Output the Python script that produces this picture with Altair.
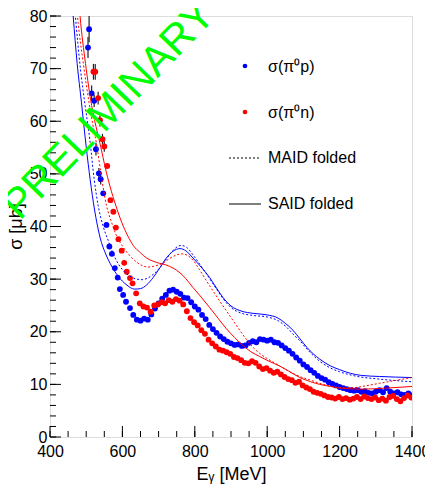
import altair as alt
import pandas as pd

# ---------------- data ----------------
p_E = [505, 508, 515, 522, 527, 535, 540, 547, 556, 564, 571, 579, 587, 593, 602, 610, 621, 630, 640, 650,
       660, 670, 680, 690, 700, 710, 720, 730, 740, 750, 760, 770, 780, 790, 800, 810, 820, 830, 840, 850,
       860, 870, 880, 890, 900, 910, 920, 930, 940, 950, 960, 970, 980, 990, 1000, 1010, 1020, 1030, 1040, 1050,
       1060, 1070, 1080, 1090, 1100, 1110, 1120, 1130, 1140, 1150, 1160, 1170, 1180, 1190, 1200, 1210, 1220, 1230,
       1240, 1250, 1260, 1270, 1280, 1290, 1300, 1310, 1320, 1330, 1340, 1350, 1360, 1370, 1380, 1390, 1400]
p_sig = [74.0, 77.5, 65.3, 63.9, 54.7, 50.1, 49.0, 46.3, 40.3, 36.2, 34.8, 32.1, 30.3, 28.1, 27.0, 25.7, 24.5, 23.2, 22.3, 22.1,
         22.5, 22.3, 23.3, 24.4, 25.4, 26.3, 27.0, 27.8, 28.0, 27.6, 27.2, 26.5, 26.4, 25.6, 24.8, 24.2, 23.2, 22.4, 21.3, 20.5,
         19.8, 19.1, 18.6, 18.1, 17.8, 17.5, 17.6, 17.3, 17.4, 17.9, 18.2, 18.0, 18.6, 18.5, 18.3, 18.5, 18.0, 17.9, 17.4, 16.9,
         16.4, 15.8, 15.1, 14.5, 13.8, 13.3, 12.7, 12.2, 11.6, 11.2, 10.9, 10.4, 10.1, 9.8, 9.5, 9.3, 9.1, 8.9,
         8.8, 8.9, 8.6, 8.7, 8.4, 8.3, 8.6, 8.9, 8.5, 9.3, 8.6, 8.3, 8.5, 8.1, 8.0, 8.3, 7.9]

n_E = [520, 525, 533, 538, 545, 550, 558, 567, 575, 582, 589, 598, 605, 612, 621, 628, 638, 648, 658, 668,
       678, 688, 698, 708, 718, 728, 738, 748, 758, 768, 778, 788, 798, 808, 818, 828, 838, 848, 858, 868,
       878, 888, 898, 908, 918, 928, 938, 948, 958, 968, 978, 988, 998, 1008, 1018, 1028, 1038, 1048, 1058, 1068,
       1078, 1088, 1098, 1108, 1118, 1128, 1138, 1148, 1158, 1168, 1178, 1188, 1198, 1208, 1218, 1228, 1238, 1248,
       1258, 1268, 1278, 1288, 1298, 1308, 1318, 1328, 1338, 1348, 1358, 1368, 1378, 1388, 1398]
n_sig = [69.4, 69.4, 64.4, 60.2, 56.6, 55.2, 51.5, 45.0, 42.8, 39.8, 37.6, 35.4, 33.1, 31.4, 30.2, 29.2, 27.3, 25.4, 24.8, 24.6,
         23.8, 25.0, 25.2, 25.6, 25.4, 26.0, 25.7, 26.2, 25.9, 25.2, 23.9, 22.6, 21.8, 21.2, 20.3, 19.6, 18.5, 17.8, 17.2, 16.6,
         16.4, 16.1, 15.8, 15.2, 15.0, 14.6, 14.1, 14.0, 14.4, 14.1, 13.4, 12.9, 13.1, 12.6, 12.2, 12.4, 11.9, 11.4, 11.0, 10.8,
         10.3, 10.5, 9.8, 9.4, 9.1, 8.6, 8.4, 8.2, 7.9, 7.6, 7.5, 7.3, 7.6, 7.2, 7.4, 7.1, 7.3, 7.6,
         7.2, 7.7, 7.4, 7.2, 7.5, 7.0, 7.3, 6.9, 7.6, 7.8, 7.2, 6.8, 7.4, 7.9, 7.5]

# error bars visible for the first points only
err_E = [505, 508, 515, 522, 527, 535, 540, 520, 525, 533, 538, 545, 550]
err_sig = [74.0, 77.5, 65.3, 63.9, 54.7, 50.1, 49.0, 69.4, 69.4, 64.4, 60.2, 56.6, 55.2]
err_val = [2.0, 2.5, 1.5, 1.2, 1.2, 1.0, 1.0, 1.5, 1.5, 1.2, 1.2, 1.0, 1.0]

# model curves
said_p_E = [455, 464, 475, 487, 497, 508, 520, 538, 555, 570, 590, 610, 634, 650, 667, 685, 703, 720, 740, 759,
            775, 795, 820, 841, 860, 878, 900, 930, 961, 1000, 1030, 1050, 1071, 1090, 1110, 1145, 1175, 1200,
            1230, 1260, 1310, 1400]
said_p_s = [88, 80, 71, 63.5, 57, 50.5, 44.5, 38.0, 34.6, 32.5, 30.4, 29.0, 28.1, 28.2, 28.9, 30.3, 32.1, 33.9, 35.3, 35.8,
            35.4, 34.0, 32.1, 30.3, 28.3, 26.5, 24.9, 23.9, 23.5, 23.2, 22.6, 21.6, 20.3, 18.7, 17.0, 14.8, 13.5, 12.8,
            12.1, 11.7, 11.5, 11.3]

maid_p_E = [460, 470, 484, 497, 510, 522, 533, 547, 561, 580, 600, 620, 640, 655, 670, 685, 700, 713, 730, 745,
            762, 778, 795, 820, 841, 860, 878, 900, 930, 961, 1000, 1030, 1053, 1075, 1090, 1110, 1145, 1175, 1200,
            1250, 1310, 1400]
maid_p_s = [88, 80, 70, 63, 56.5, 49, 44, 40, 37.3, 34, 31.8, 30.6, 30.0, 29.9, 30.2, 30.9, 31.9, 33.0, 34.6, 35.8,
            36.4, 36.0, 34.6, 32.2, 30.1, 28.1, 26.3, 24.6, 23.5, 23.1, 22.8, 22.1, 20.9, 19.3, 18.3, 16.7, 14.4, 13.1, 12.4,
            11.5, 11.0, 10.5]

said_n_E = [474, 483, 498, 515, 527, 538, 555, 570, 585, 598, 615, 630, 650, 667, 685, 703, 720, 740, 759, 775,
            795, 815, 841, 865, 887, 910, 933, 955, 979, 1005, 1034, 1060, 1090, 1120, 1145, 1175, 1200, 1264, 1330, 1400]
said_n_s = [88, 80, 71, 63, 59, 55.8, 50.5, 46.6, 43.3, 40.8, 38.2, 36.4, 35.0, 34.0, 33.4, 33.0, 32.7, 32.1, 31.2, 30.1,
            28.4, 26.8, 24.6, 22.5, 20.6, 18.9, 17.4, 16.2, 15.3, 14.4, 13.5, 12.5, 11.3, 10.5, 10.0, 9.6, 9.3, 9.1, 9.3, 9.6]

maid_n_E = [467, 476, 492, 508, 518, 529, 542, 556, 570, 584, 600, 621, 640, 657, 670, 685, 700, 713, 730, 750,
            765, 780, 795, 812, 832, 850, 869, 888, 906, 925, 943, 960, 979, 1000, 1025, 1062, 1090, 1120, 1145, 1175,
            1200, 1240, 1270, 1310, 1350, 1400]
maid_n_s = [88, 80, 71, 63.5, 59.5, 55.5, 49.5, 44, 40.8, 38.2, 36.3, 34.4, 33.2, 32.5, 32.3, 32.4, 32.7, 33.1, 33.9, 34.6,
            34.8, 34.5, 33.6, 31.9, 29.7, 27.8, 25.8, 23.9, 22.1, 20.2, 18.5, 17.1, 15.9, 14.9, 13.9, 12.4, 11.5, 10.8, 10.2, 9.7,
            9.4, 9.4, 9.7, 10.2, 10.7, 11.3]

x_major = [400, 600, 800, 1000, 1200, 1400]
x_minor = list(range(400, 1401, 50))
y_major = list(range(0, 81, 10))
y_minor = list(range(0, 81, 2))

legend_labels = ["σ(π⁰p)", "σ(π⁰n)", "MAID folded", "SAID folded"]
watermark = "PRELIMINARY"

# ---------------- chart ----------------
W, H = 362, 421
FONT = "Liberation Sans"
BLUE, RED = "#0000ff", "#ff0000"

xs = alt.Scale(domain=[400, 1400], nice=False, zero=False)
ys = alt.Scale(domain=[0, 80], nice=False, zero=False)
xaxis = alt.Axis(values=x_major, format="d", ticks=False, grid=False, domain=False, labelFontSize=16, labelFont=FONT,
                 labelColor="black", labelPadding=6, labelFlush=False, labelOverlap=False,
                 title="Eᵧ [MeV]", titleFont=FONT, titleFontSize=18, titleFontWeight="normal", titleColor="black",
                 titleX=181, titleY=37, titleAlign="center", titleBaseline="middle")
yaxis = alt.Axis(values=y_major, format="d", ticks=False, grid=False, domain=False, labelFontSize=16, labelFont=FONT,
                 labelColor="black", labelPadding=3, labelOverlap=False,
                 title="σ [μb]", titleFont=FONT, titleFontSize=18, titleFontWeight="normal", titleColor="black",
                 titleX=-34, titleY=210, titleAngle=270, titleAlign="center", titleBaseline="middle")


def X(field="E"):
    return alt.X(f"{field}:Q", scale=xs, axis=xaxis)


def Y(field="s"):
    return alt.Y(f"{field}:Q", scale=ys, axis=yaxis)


df_p = pd.DataFrame({"E": p_E, "s": p_sig})
df_n = pd.DataFrame({"E": n_E, "s": n_sig})
df_err = pd.DataFrame({"E": err_E, "lo": [a - b for a, b in zip(err_sig, err_val)],
                       "hi": [a + b for a, b in zip(err_sig, err_val)]})

layers = []

# ticks inside the frame
layers.append(alt.Chart(pd.DataFrame({"E": x_minor})).mark_rule(color="black", strokeWidth=1).encode(
    x=X(), y=alt.value(H), y2=alt.value(H - 6)))
layers.append(alt.Chart(pd.DataFrame({"E": x_major})).mark_rule(color="black", strokeWidth=1).encode(
    x=X(), y=alt.value(H), y2=alt.value(H - 11)))
layers.append(alt.Chart(pd.DataFrame({"s": y_minor})).mark_rule(color="black", strokeWidth=1).encode(
    y=Y(), x=alt.value(0), x2=alt.value(6)))
layers.append(alt.Chart(pd.DataFrame({"s": y_major})).mark_rule(color="black", strokeWidth=1).encode(
    y=Y(), x=alt.value(0), x2=alt.value(11)))

# error bars
layers.append(alt.Chart(df_err).mark_rule(color="#222222", strokeWidth=1.2, clip=True).encode(
    x=X(), y=Y("lo"), y2="hi:Q"))

# data points
layers.append(alt.Chart(df_p).mark_circle(size=34, opacity=1, color=BLUE, clip=True).encode(x=X(), y=Y()))
layers.append(alt.Chart(df_n).mark_circle(size=34, opacity=1, color=RED, clip=True).encode(x=X(), y=Y()))

# model curves
for Es, Ss, col, dash in [(said_p_E, said_p_s, BLUE, None), (maid_p_E, maid_p_s, BLUE, [2, 2]),
                          (said_n_E, said_n_s, RED, None), (maid_n_E, maid_n_s, RED, [2, 2])]:
    kw = dict(color=col, strokeWidth=1, clip=True, interpolate="monotone")
    if dash:
        kw["strokeDash"] = dash
    layers.append(alt.Chart(pd.DataFrame({"E": Es, "s": Ss})).mark_line(**kw).encode(x=X(), y=Y()))

# legend
one = pd.DataFrame({"t": legend_labels})
layers.append(alt.Chart(one.iloc[[0]]).mark_circle(size=22, opacity=1, color=BLUE).encode(
    x=alt.value(195), y=alt.value(50)))
layers.append(alt.Chart(one.iloc[[1]]).mark_circle(size=22, opacity=1, color=RED).encode(
    x=alt.value(195), y=alt.value(96)))
layers.append(alt.Chart(one.iloc[[2]]).mark_rule(color="black", strokeWidth=1, strokeDash=[2, 2]).encode(
    x=alt.value(179), x2=alt.value(211), y=alt.value(142)))
layers.append(alt.Chart(one.iloc[[3]]).mark_rule(color="black", strokeWidth=1).encode(
    x=alt.value(179), x2=alt.value(211), y=alt.value(188)))
for i, yy in enumerate([51, 97, 142, 188]):
    layers.append(alt.Chart(one.iloc[[i]]).mark_text(align="left", baseline="middle", fontSize=16, font=FONT,
                                                     color="black").encode(
        x=alt.value(218), y=alt.value(yy), text="t:N"))

# watermark
layers.append(alt.Chart(pd.DataFrame({"t": [watermark]})).mark_text(
    align="center", baseline="middle", fontSize=42, font=FONT, color="#00ff00", angle=314).encode(
    x=alt.value(59), y=alt.value(94), text="t:N"))

chart = alt.layer(*layers).properties(
    width=W, height=H,
    padding={"left": 42, "top": 8, "right": 13, "bottom": 52},
    autosize=alt.AutoSizeParams(type="none"),
).configure_view(stroke="black", strokeWidth=1).configure(font=FONT)

chart.save("out.html", embed_options={"renderer": "svg", "actions": False})
